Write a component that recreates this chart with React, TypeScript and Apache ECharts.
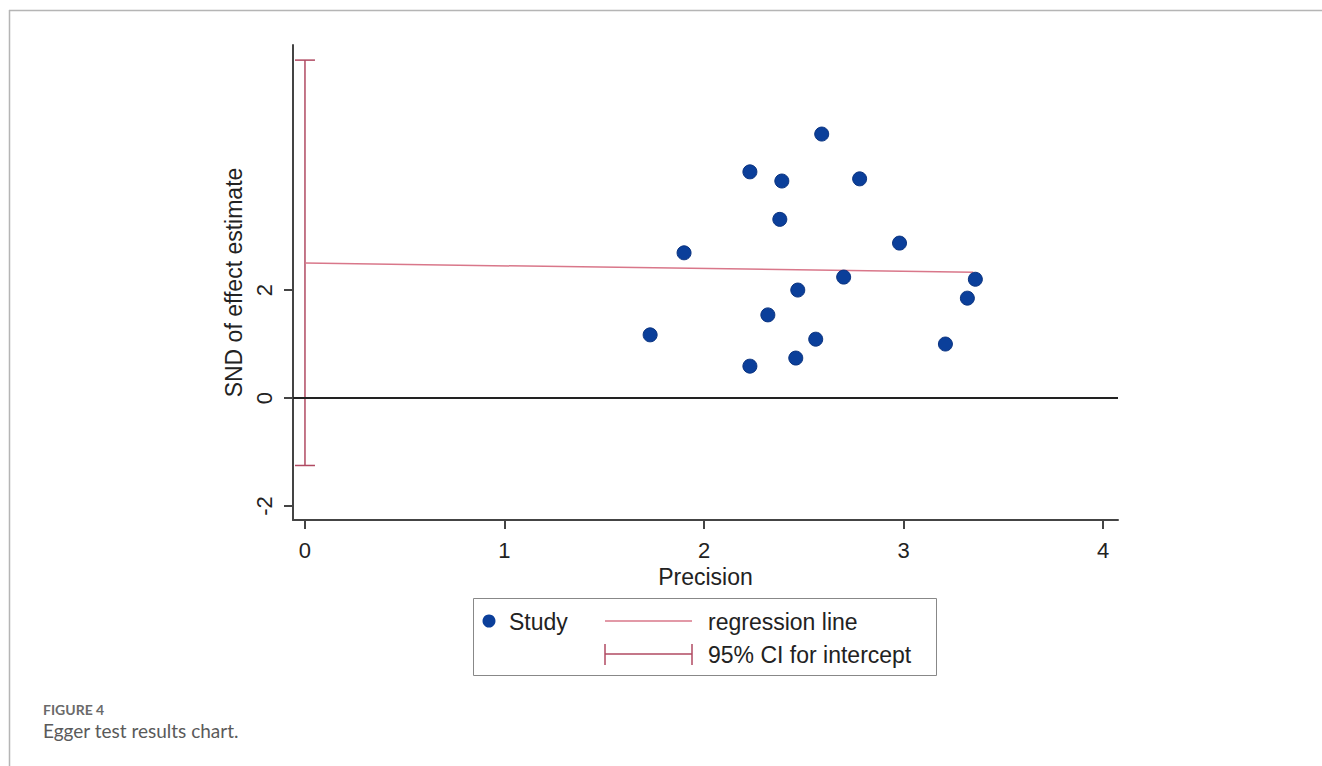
import React, { useEffect, useRef } from "react";
import * as echarts from "echarts";

const precision = [1.73, 1.90, 2.23, 2.23, 2.32, 2.38, 2.39, 2.46, 2.47, 2.56, 2.59, 2.70, 2.78, 2.98, 3.21, 3.32, 3.36];
const snd = [1.17, 2.69, 0.59, 4.19, 1.54, 3.31, 4.02, 0.74, 2.0, 1.09, 4.89, 2.24, 4.06, 2.87, 1.0, 1.85, 2.2];
const regressionX = [0, 3.35];
const regressionY = [2.5, 2.33];
const ciIntercept = [-1.25, 6.26];
const xTicks = [0, 1, 2, 3, 4];
const yTicks = [-2, 0, 2];

const FONT = "'Liberation Sans', Arial, sans-serif";
const CAPFONT = "Lato, 'Open Sans', sans-serif";
const DOT = "#0b3f9a";
const REG = "#d9778a";
const CI = "#b04a62";

export default function App() {
  const ref = useRef<HTMLDivElement>(null);
  useEffect(() => {
    const chart = echarts.init(ref.current!, null, { renderer: "svg" });
    const option: any = {
      animation: false,
      backgroundColor: "#ffffff",
      grid: { left: 293, right: 204, top: 45, bottom: 246, containLabel: false },
      xAxis: {
        type: "value",
        min: -0.06,
        max: 4.075,
        name: "Precision",
        nameLocation: "middle",
        nameGap: 43,
        nameTextStyle: { fontFamily: FONT, fontSize: 23, color: "#222" },
        axisLine: { show: true, onZero: false, lineStyle: { color: "#444", width: 2 } },
        axisTick: { show: true, length: 9, customValues: xTicks, lineStyle: { color: "#444", width: 2 } },
        axisLabel: { customValues: xTicks, fontFamily: FONT, fontSize: 22, color: "#222", margin: 19 },
        splitLine: { show: false },
      },
      yAxis: {
        type: "value",
        min: -2.26,
        max: 6.54,
        name: "SND of effect estimate",
        nameLocation: "middle",
        nameRotate: 90,
        nameGap: 45,
        nameTextStyle: { fontFamily: FONT, fontSize: 23, color: "#222" },
        axisLine: { show: true, onZero: false, lineStyle: { color: "#444", width: 2 } },
        axisTick: { show: true, length: 9, customValues: yTicks, lineStyle: { color: "#444", width: 2 } },
        axisLabel: {
          customValues: yTicks,
          rotate: 90,
          fontFamily: FONT,
          fontSize: 22,
          color: "#222",
          margin: 29,
          align: "center",
          verticalAlign: "middle",
        },
        splitLine: { show: false },
      },
      series: [
        {
          type: "line",
          data: regressionX.map((x, i) => [x, regressionY[i]]),
          symbol: "none",
          lineStyle: { color: REG, width: 1.5 },
          z: 2,
        },
        {
          type: "custom",
          data: [[0, ciIntercept[0], ciIntercept[1]]],
          renderItem: (params: any, api: any) => {
            const lo = api.coord([api.value(0), api.value(1)]);
            const hi = api.coord([api.value(0), api.value(2)]);
            const cap = 10;
            const style = { stroke: CI, lineWidth: 1.5 };
            return {
              type: "group",
              children: [
                { type: "line", shape: { x1: lo[0], y1: lo[1], x2: hi[0], y2: hi[1] }, style },
                { type: "line", shape: { x1: lo[0] - cap, y1: lo[1], x2: lo[0] + cap, y2: lo[1] }, style },
                { type: "line", shape: { x1: hi[0] - cap, y1: hi[1], x2: hi[0] + cap, y2: hi[1] }, style },
              ],
            };
          },
          z: 2,
        },
        {
          type: "scatter",
          data: precision.map((x, i) => [x, snd[i]]),
          symbol: "circle",
          symbolSize: 14,
          itemStyle: { color: DOT, opacity: 1, borderColor: "#0a3380", borderWidth: 1 },
          z: 3,
          markLine: {
            silent: true,
            symbol: "none",
            label: { show: false },
            lineStyle: { color: "#222", width: 2, type: "solid" },
            data: [{ yAxis: 0 }],
          },
        },
      ],
      graphic: [
        { type: "line", shape: { x1: 9, y1: 10.5, x2: 1322, y2: 10.5 }, style: { stroke: "#b5b5b5", lineWidth: 1.5 } },
        { type: "line", shape: { x1: 9.5, y1: 10, x2: 9.5, y2: 766 }, style: { stroke: "#b5b5b5", lineWidth: 1.5 } },
        { type: "rect", shape: { x: 473.5, y: 598.5, width: 463, height: 77 }, style: { fill: "#fff", stroke: "#888", lineWidth: 1 } },
        { type: "circle", shape: { cx: 489, cy: 621, r: 6.5 }, style: { fill: DOT } },
        { type: "text", x: 509, y: 622, style: { text: "Study", font: `23px ${FONT}`, fill: "#222", verticalAlign: "middle" } },
        { type: "line", shape: { x1: 605, y1: 621, x2: 692, y2: 621 }, style: { stroke: REG, lineWidth: 1.5 } },
        { type: "text", x: 708, y: 622, style: { text: "regression line", font: `23px ${FONT}`, fill: "#222", verticalAlign: "middle" } },
        { type: "line", shape: { x1: 605, y1: 654, x2: 692, y2: 654 }, style: { stroke: CI, lineWidth: 1.5 } },
        { type: "line", shape: { x1: 605, y1: 644, x2: 605, y2: 665 }, style: { stroke: CI, lineWidth: 1.5 } },
        { type: "line", shape: { x1: 692, y1: 644, x2: 692, y2: 665 }, style: { stroke: CI, lineWidth: 1.5 } },
        { type: "text", x: 708, y: 655, style: { text: "95% CI for intercept", font: `23px ${FONT}`, fill: "#222", verticalAlign: "middle" } },
        { type: "text", x: 43, y: 709, style: { text: "FIGURE 4", font: `bold 14px ${CAPFONT}`, fill: "#6a6a6a", verticalAlign: "middle" } },
        { type: "text", x: 43, y: 730, style: { text: "Egger test results chart.", font: `19px ${CAPFONT}`, fill: "#5a5a5a", verticalAlign: "middle" } },
      ],
    };
    chart.setOption(option);
    return () => chart.dispose();
  }, []);
  return <div ref={ref} style={{ position: "absolute", left: 0, top: 0, width: 1322, height: 766 }} />;
}
